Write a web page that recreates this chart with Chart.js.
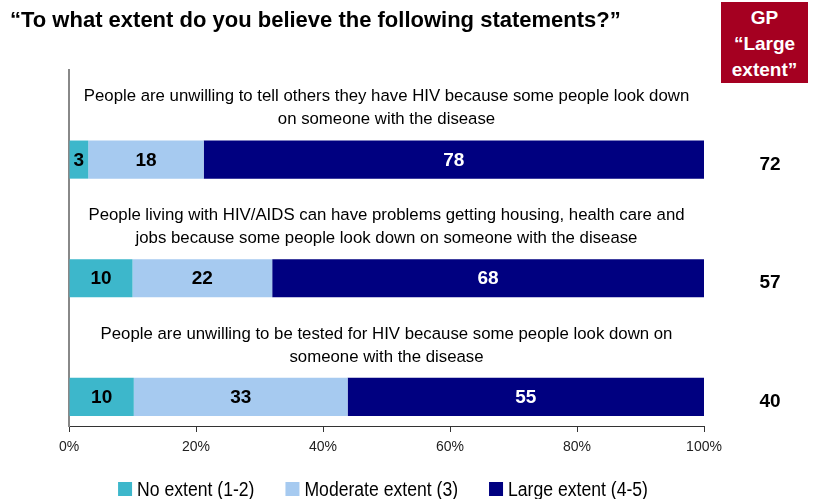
<!DOCTYPE html>
<html>
<head>
<meta charset="utf-8">
<script src="https://cdn.jsdelivr.net/npm/chart.js@4.4.1/dist/chart.umd.min.js"></script>
<style>
  html, body { margin: 0; padding: 0; background: #fff; }
  #wrap { position: relative; width: 813px; height: 499px; }
  #title { position: absolute; left: 10px; top: 7px; font: bold 22px "Liberation Sans", Arial, sans-serif; color: #000; }
  #gp { position: absolute; left: 721px; top: 2px; width: 87px; height: 81px; background: #A50021;
        color: #fff; font: bold 19px "Liberation Sans", Arial, sans-serif; text-align: center; line-height: 26px; padding-top: 3px; box-sizing: border-box; }
</style>
</head>
<body>
<div id="wrap">
  <canvas id="myChart"></canvas>
  <div id="title">“To what extent do you believe the following statements?”</div>
  <div id="gp">GP<br>“Large<br>extent”</div>
</div>
<script>
// Statements (each split into two lines as in the original)
const statements = [
    ['People are unwilling to tell others they have HIV because some people look down', 'on someone with the disease'],
    ['People living with HIV/AIDS can have problems getting housing, health care and', 'jobs because some people look down on someone with the disease'],
    ['People are unwilling to be tested for HIV because some people look down on', 'someone with the disease']
];
const noExtent = [3, 10, 10];
const moderateExtent = [18, 22, 33];
const largeExtent = [78, 68, 55];
const gpLarge = [72, 57, 40];
const xTicks = [0, 20, 40, 60, 80, 100];

const seriesNames = ['No extent (1-2)', 'Moderate extent (3)', 'Large extent (4-5)'];
const seriesColors = ['#3DB7CB', '#A6CAF0', '#000080'];
const labelColors = ['#000', '#000', '#fff'];
const series = [noExtent, moderateExtent, largeExtent];

// 100% stacked: each bar is scaled to its own total, labels keep the survey values
const totals = noExtent.map((v, i) => noExtent[i] + moderateExtent[i] + largeExtent[i]);
const share = (arr) => arr.map((v, i) => v / totals[i] * 100);

const FONT = '"Liberation Sans", Arial, sans-serif';

// Draws statement text above each bar, values in the segments, GP column and legend
const annotations = {
    id: 'annotations',
    afterDatasetsDraw(chart) {
        const ctx = chart.ctx;
        const area = chart.chartArea;
        const cx = (area.left + area.right) / 2;
        const barMeta = chart.getDatasetMeta(1);
        ctx.save();
        ctx.textBaseline = 'middle';

        // value labels inside segments
        for (let d = 1; d <= 3; d++) {
            const meta = chart.getDatasetMeta(d);
            meta.data.forEach((bar, i) => {
                ctx.font = 'bold 19px ' + FONT;
                ctx.fillStyle = labelColors[d - 1];
                ctx.textAlign = 'center';
                ctx.fillText(String(series[d - 1][i]), (bar.x + bar.base) / 2, bar.y + 1);
            });
        }

        barMeta.data.forEach((bar, i) => {
            // statement text
            ctx.font = '16.8px ' + FONT;
            ctx.fillStyle = '#000';
            ctx.textAlign = 'center';
            ctx.fillText(statements[i][0], cx, bar.y - 63);
            ctx.fillText(statements[i][1], cx, bar.y - 40);
            // GP column
            ctx.font = 'bold 19px ' + FONT;
            ctx.fillText(String(gpLarge[i]), 770, bar.y + 5);
        });

        // legend (text slightly condensed like the original)
        const squeeze = 0.88;
        ctx.font = '20px ' + FONT;
        ctx.textAlign = 'left';
        const gap = 31, box = 14, boxGap = 5;
        const widths = seriesNames.map(n => box + boxGap + ctx.measureText(n).width * squeeze);
        const total = widths.reduce((a, b) => a + b, 0) + gap * (seriesNames.length - 1);
        let x = 383 - total / 2;
        const ly = 489;
        seriesNames.forEach((n, i) => {
            ctx.fillStyle = seriesColors[i];
            ctx.fillRect(x, ly - 7, box, 14);
            ctx.fillStyle = '#000';
            ctx.save();
            ctx.translate(x + box + boxGap, ly + 1);
            ctx.scale(squeeze, 1);
            ctx.fillText(n, 0, 0);
            ctx.restore();
            x += widths[i] + gap;
        });
        ctx.restore();
    }
};

const ctx = document.getElementById('myChart').getContext('2d');

const myChart = new Chart(ctx, {
    type: 'bar',
    data: {
        labels: statements.map(s => s.join(' ')),
        datasets: [
            // empty slot that leaves room for the statement text above each bar
            { label: 'text', data: [0, 0, 0], stack: 'text', backgroundColor: 'rgba(0,0,0,0)' },
            { label: seriesNames[0], data: share(noExtent), stack: 'bars', backgroundColor: seriesColors[0] },
            { label: seriesNames[1], data: share(moderateExtent), stack: 'bars', backgroundColor: seriesColors[1] },
            { label: seriesNames[2], data: share(largeExtent), stack: 'bars', backgroundColor: seriesColors[2] }
        ]
    },
    options: {
        indexAxis: 'y',
        responsive: true,
        maintainAspectRatio: false,
        animation: false,
        categoryPercentage: 1.02,
        barPercentage: 0.63,
        layout: { padding: { left: 61, right: 109, top: 70, bottom: 0 } },
        scales: {
            x: {
                stacked: true,
                min: 0,
                max: 100,
                afterBuildTicks: (scale) => { scale.ticks = xTicks.map(v => ({ value: v })); },
                afterFit: (scale) => { scale.height = 73; },
                ticks: {
                    callback: (v) => v + '%',
                    font: { family: FONT, size: 14 },
                    color: '#222',
                    padding: 7,
                    maxRotation: 0
                },
                grid: { drawOnChartArea: false, drawTicks: true, tickLength: 6, color: '#333' },
                border: { color: '#333', width: 1 }
            },
            y: {
                stacked: true,
                ticks: { display: false },
                grid: { display: false },
                border: { color: '#888', width: 2 }
            }
        },
        plugins: {
            legend: { display: false },
            tooltip: { enabled: false }
        }
    },
    plugins: [annotations]
});
</script>
</body>
</html>
